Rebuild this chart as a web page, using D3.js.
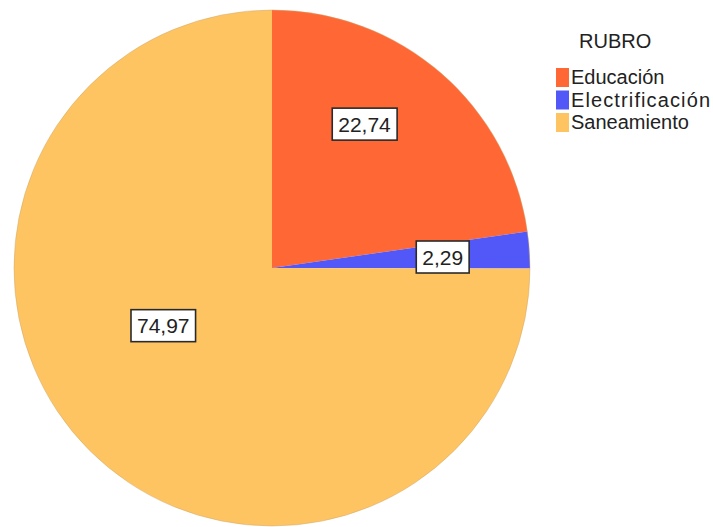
<!DOCTYPE html>
<html>
<head>
<meta charset="utf-8">
<script src="https://cdn.jsdelivr.net/npm/d3@7"></script>
<style>
  html, body { margin: 0; padding: 0; background: #ffffff; }
  svg { display: block; }
</style>
</head>
<body>
<svg id="chart" width="713" height="527"></svg>
<script>
// ---- data ----
const categories = ["Educación", "Electrificación", "Saneamiento"];
const values = [22.74, 2.29, 74.97];
const valueLabels = ["22,74", "2,29", "74,97"];
const legendTitle = "RUBRO";
const colors = ["#FF6835", "#5258F7", "#FFC462"];

// ---- drawing ----
const svg = d3.select("#chart");
const W = 713, H = 527;
const cx = 272, cy = 268, R = 258;
const font = "'Liberation Sans', Arial, sans-serif";

const color = d3.scaleOrdinal().domain(categories).range(colors);

const data = categories.map((c, i) => ({ cat: c, value: values[i], label: valueLabels[i] }));

const pie = d3.pie().value(d => d.value).sort(null);
const arcs = pie(data);
const arc = d3.arc().innerRadius(0).outerRadius(R);

const g = svg.append("g").attr("transform", `translate(${cx},${cy})`);

g.selectAll("path.slice")
  .data(arcs)
  .enter().append("path")
  .attr("class", "slice")
  .attr("d", arc)
  .attr("fill", d => color(d.data.cat))
  .attr("stroke", "none");

// subtle outer edge
g.append("circle")
  .attr("r", R)
  .attr("fill", "none")
  .attr("stroke", "#c9a46a")
  .attr("stroke-opacity", 0.45)
  .attr("stroke-width", 1);

// label placement within each slice (fraction along angle, fraction of radius)
const labelPlace = [
  { t: 0.40, k: 0.663 },
  { t: 0.54, k: 0.663 },
  { t: 0.563, k: 0.477 }
];

const labels = g.selectAll("g.lbl")
  .data(arcs)
  .enter().append("g")
  .attr("class", "lbl")
  .attr("transform", (d, i) => {
    const p = labelPlace[i];
    const a = d.startAngle + (d.endAngle - d.startAngle) * p.t;
    const r = R * p.k;
    return `translate(${r * Math.sin(a)},${-r * Math.cos(a)})`;
  });

labels.each(function(d) {
  const sel = d3.select(this);
  const t = sel.append("text")
    .attr("text-anchor", "middle")
    .attr("dy", "0.36em")
    .attr("font-family", font)
    .attr("font-size", 21)
    .attr("fill", "#222")
    .text(d.data.label);
  const bb = t.node().getBBox();
  sel.insert("rect", "text")
    .attr("x", bb.x - 6)
    .attr("y", -16)
    .attr("width", bb.width + 12)
    .attr("height", 32)
    .attr("fill", "#ffffff")
    .attr("stroke", "#2a2a2a")
    .attr("stroke-width", 1.6);
});

// ---- legend ----
const lg = svg.append("g");
lg.append("text")
  .attr("x", 579)
  .attr("y", 48)
  .attr("font-family", font)
  .attr("font-size", 20)
  .attr("fill", "#222")
  .text(legendTitle);

const rowY = d3.scalePoint().domain(categories).range([77, 122]);

const items = lg.selectAll("g.item")
  .data(categories)
  .enter().append("g")
  .attr("class", "item")
  .attr("transform", d => `translate(0,${rowY(d)})`);

items.append("rect")
  .attr("x", 556)
  .attr("y", -9)
  .attr("width", 13)
  .attr("height", 19)
  .attr("fill", d => color(d));

items.append("text")
  .attr("x", 571)
  .attr("y", 0)
  .attr("dy", "0.36em")
  .attr("font-family", font)
  .attr("font-size", 20)
  .attr("textLength", d => d === "Electrificación" ? 139 : null)
  .attr("fill", "#222")
  .text(d => d);
</script>
</body>
</html>
